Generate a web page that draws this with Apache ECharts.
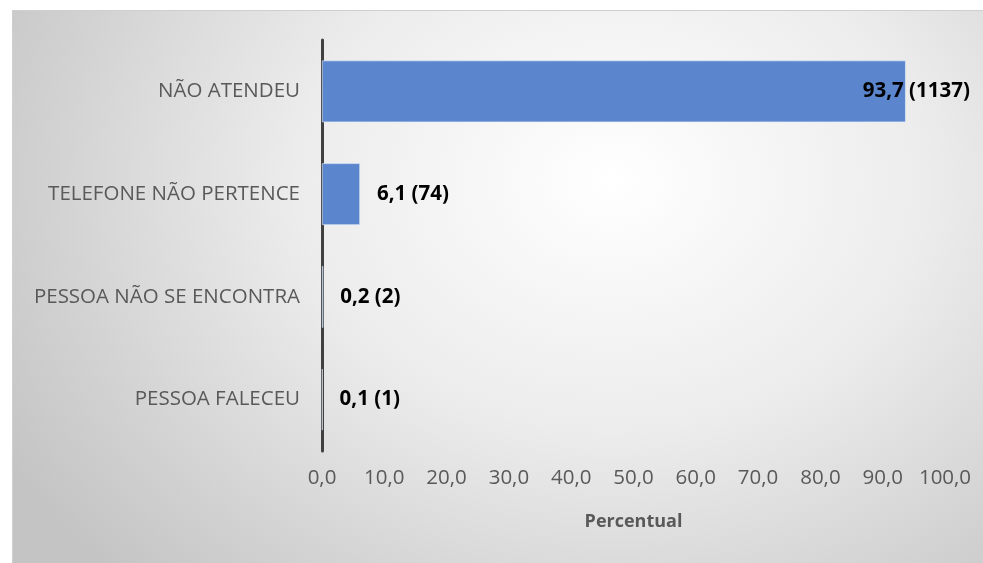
<!DOCTYPE html>
<html>
<head>
<meta charset="utf-8">
<script src="https://cdn.jsdelivr.net/npm/echarts@6/dist/echarts.min.js"></script>
<style>
  html, body { margin: 0; padding: 0; overflow: hidden; background: #ffffff; }
  #box { position: fixed; left: 12px; top: 10px; right: -300px; bottom: -300px;
         border: 1px solid #cfcfcf;
         background: radial-gradient(ellipse 700px 560px at 600px 170px, #ffffff 0%, #ececec 45%, #d2d2d2 80%, #c4c4c4 100%); }
  #chart { position: absolute; left: 0; top: 0; width: 983px; height: 563px; }
</style>
</head>
<body>
<div id="box"></div>
<div id="chart"></div>
<script>
const categories = ['NÃO ATENDEU', 'TELEFONE NÃO PERTENCE', 'PESSOA NÃO SE ENCONTRA', 'PESSOA FALECEU'];
const percentValues = [93.7, 6.1, 0.2, 0.1];
const countValues = [1137, 74, 2, 1];
const xTicks = [0, 10, 20, 30, 40, 50, 60, 70, 80, 90, 100];

const fontFamily = '"Open Sans", "Noto Sans", sans-serif';
const chart = echarts.init(document.getElementById('chart'), null, { renderer: 'canvas' });

const fmt = v => v.toFixed(1).replace('.', ',');

const seriesData = percentValues.map((v, i) => {
  const item = { value: v };
  if (i === 0) item.label = { offset: [-60, 0] };
  return item;
});

chart.setOption({
  backgroundColor: 'transparent',
  animation: false,
  grid: { left: 322, right: 38, top: 40, bottom: 112, containLabel: false },
  xAxis: {
    type: 'value',
    min: xTicks[0],
    max: xTicks[xTicks.length - 1],
    interval: 10,
    name: 'Percentual',
    nameLocation: 'middle',
    nameGap: 62,
    nameTextStyle: { fontFamily, fontSize: 18, fontWeight: 'bold', color: '#595959' },
    axisLine: { show: false },
    axisTick: { show: false },
    splitLine: { show: false },
    axisLabel: { margin: 17, fontFamily, fontSize: 20.5, color: '#595959', formatter: v => fmt(v) }
  },
  yAxis: {
    type: 'category',
    data: categories,
    inverse: true,
    axisLine: { show: true, lineStyle: { color: '#404040', width: 3 } },
    axisTick: { show: false },
    axisLabel: { margin: 22, fontFamily, fontSize: 20.5, color: '#595959' }
  },
  series: [{
    type: 'bar',
    data: seriesData,
    barCategoryGap: '40%',
    itemStyle: { color: '#5b85cd', borderColor: '#e8eef8', borderWidth: 0.6 },
    label: {
      show: true,
      position: 'right',
      distance: 17,
      fontFamily,
      fontSize: 20.5,
      fontWeight: 'bold',
      color: '#000000',
      formatter: p => fmt(percentValues[p.dataIndex]) + ' (' + countValues[p.dataIndex] + ')'
    }
  }]
});
</script>
</body>
</html>
